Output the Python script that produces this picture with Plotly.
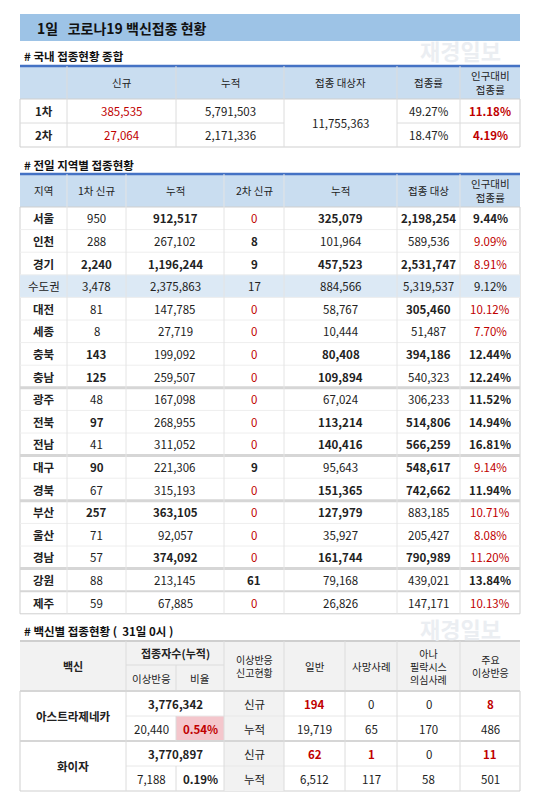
import plotly.graph_objects as go

# ---- data ----
dose_labels = ["1차", "2차"]
dose_new = [385535, 27064]
dose_cum = [5791503, 2171336]
dose_target = 11755363
dose_rate = ["49.27%", "18.47%"]
dose_pop_rate = ["11.18%", "4.19%"]

regions = ["서울", "인천", "경기", "수도권", "대전", "세종", "충북", "충남", "광주",
           "전북", "전남", "대구", "경북", "부산", "울산", "경남", "강원", "제주"]
first_new = [950, 288, 2240, 3478, 81, 8, 143, 125, 48, 97, 41, 90, 67, 257, 71, 57, 88, 59]
first_cum = [912517, 267102, 1196244, 2375863, 147785, 27719, 199092, 259507, 167098,
             268955, 311052, 221306, 315193, 363105, 92057, 374092, 213145, 67885]
second_new = [0, 8, 9, 17, 0, 0, 0, 0, 0, 0, 0, 9, 0, 0, 0, 0, 61, 0]
second_cum = [325079, 101964, 457523, 884566, 58767, 10444, 80408, 109894, 67024,
              113214, 140416, 95643, 151365, 127979, 35927, 161744, 79168, 26826]
target = [2198254, 589536, 2531747, 5319537, 305460, 51487, 394186, 540323, 306233,
          514806, 566259, 548617, 742662, 883185, 205427, 790989, 439021, 147171]
pop_rate = ["9.44%", "9.09%", "8.91%", "9.12%", "10.12%", "7.70%", "12.44%", "12.24%", "11.52%",
            "14.94%", "16.81%", "9.14%", "11.94%", "10.71%", "8.08%", "11.20%", "13.84%", "10.13%"]
# emphasis flags (1 = bold, 2 = red)
emph = [
    [0, 1, 2, 1, 1, 1], [0, 0, 1, 0, 0, 2], [1, 1, 1, 1, 1, 2], [0, 0, 0, 0, 0, 0],
    [0, 0, 2, 0, 1, 2], [0, 0, 2, 0, 0, 2], [1, 0, 2, 1, 1, 1], [1, 0, 2, 1, 0, 1],
    [0, 0, 2, 0, 0, 1], [1, 0, 2, 1, 1, 1], [0, 0, 2, 1, 1, 1], [1, 0, 1, 0, 1, 2],
    [0, 0, 2, 1, 1, 1], [1, 1, 2, 1, 0, 2], [0, 0, 2, 0, 0, 2], [0, 1, 2, 1, 1, 2],
    [0, 0, 1, 0, 0, 1], [0, 0, 2, 0, 0, 2],
]
group_breaks = ["광주", "대구", "부산", "강원"]

vaccines = ["아스트라제네카", "화이자"]
vac_total = [3776342, 3770897]
vac_adverse = [20440, 7188]
vac_ratio = ["0.54%", "0.19%"]
vac_new = [[194, 0, 0, 8], [62, 1, 0, 11]]
vac_cum = [[19719, 65, 170, 486], [6512, 117, 58, 501]]

RED = "#c00000"
LINE = "#dcdcdc"
FONT = "Noto Sans CJK KR"

fig = go.Figure()
shapes, notes = [], []


def rect(x0, x1, y0, y1, fill, line=None, w=0):
    shapes.append(dict(type="rect", x0=x0, x1=x1, y0=y0, y1=y1, fillcolor=fill,
                       line=dict(color=line or fill, width=w), layer="below"))


def seg(x0, y0, x1, y1, color=LINE, w=1):
    shapes.append(dict(type="line", x0=x0, x1=x1, y0=y0, y1=y1, line=dict(color=color, width=w)))


def txt(x, y, s, bold=False, color="#222", size=11.5, anchor="center"):
    if bold:
        s = "<b>" + s + "</b>"
    notes.append(dict(x=x, y=y, text=s, showarrow=False, xanchor=anchor, yanchor="middle",
                      font=dict(family=FONT, size=size, color=color)))


def num(v):
    return f"{v:,}"


def mid(a, b):
    return (a + b) / 2


L, R = 12, 512

# watermarks
txt(452, 42, "재경일보", True, "#ebeef2", 22)
txt(452, 620, "재경일보", True, "#ebeef2", 22)

# title bar
rect(L, R, 6, 33, "#9dc3e6")
txt(27, 19.5, "1일   코로나19 백신접종 현황", True, "#111", 14, "left")

# ---- table 1 ----
txt(14, 48, "# 국내 접종현황 종합", True, "#111", 11.5, "left")
c1 = [L, 59, 168, 276, 389, 452, R]
t1, h1, rh = 58, 91, 24
rect(L, R, t1, h1, "#c9ddf0")
rect(L, R, h1, h1 + 2 * rh, "white", "#cfcfcf", 1)
seg(L, t1, R, t1, "#4472c4", 2.5)
for x in c1[1:-1]:
    seg(x, t1, x, h1 + 2 * rh)
seg(L, h1 + rh, c1[3], h1 + rh)
seg(c1[4], h1 + rh, R, h1 + rh)
heads1 = ["", "신규", "누적", "접종 대상자", "접종률", "인구대비<br>접종률"]
for i, hd in enumerate(heads1):
    txt(mid(c1[i], c1[i + 1]), mid(t1, h1), hd, size=10.5)
for r in range(2):
    y = h1 + rh * (r + 0.5)
    txt(mid(c1[0], c1[1]), y, dose_labels[r], True)
    txt(mid(c1[1], c1[2]), y, num(dose_new[r]), False, RED)
    txt(mid(c1[2], c1[3]), y, num(dose_cum[r]))
    txt(mid(c1[4], c1[5]), y, dose_rate[r])
    txt(mid(c1[5], c1[6]), y, dose_pop_rate[r], True, RED)
txt(mid(c1[3], c1[4]), h1 + rh, num(dose_target))

# ---- table 2 ----
txt(14, 157, "# 전일 지역별 접종현황", True, "#111", 11.5, "left")
c2 = [L, 59, 118, 216, 276, 389, 452, R]
t2, h2, rh2 = 166, 199, 22.6
bottom2 = h2 + rh2 * len(regions)
rect(L, R, t2, h2, "#c9ddf0")
rect(L, R, h2, bottom2, "white", "#cfcfcf", 1)
seg(L, t2, R, t2, "#4472c4", 2.5)
heads2 = ["지역", "1차 신규", "누적", "2차 신규", "누적", "접종 대상", "인구대비<br>접종률"]
for i, hd in enumerate(heads2):
    txt(mid(c2[i], c2[i + 1]), mid(t2, h2), hd, size=10.5)
for i, reg in enumerate(regions):
    y0 = h2 + rh2 * i
    if reg == "수도권":
        rect(L, R, y0, y0 + rh2, "#dce9f5")
    if i > 0:
        if reg in group_breaks or reg == "제주":
            seg(L, y0, R, y0, "#d6d6d6", 3 if reg != "제주" else 2)
        else:
            seg(L, y0, R, y0, "#eeeeee")
for x in c2[1:-1]:
    seg(x, t2, x, bottom2, "#e4e4e4")
for i, reg in enumerate(regions):
    y = h2 + rh2 * (i + 0.5)
    txt(mid(c2[0], c2[1]), y, reg, reg != "수도권")
    vals = [num(first_new[i]), num(first_cum[i]), num(second_new[i]),
            num(second_cum[i]), num(target[i]), pop_rate[i]]
    for j, v in enumerate(vals):
        f = emph[i][j]
        txt(mid(c2[j + 1], c2[j + 2]), y, v, f == 1, RED if f == 2 else "#222")

# ---- table 3 ----
txt(14, 623, "# 백신별 접종현황 (  31일 0시 )", True, "#111", 11.5, "left")
c3 = [L, 118, 168, 216, 276, 337, 389, 452, R]
t3, hm, h3, rh3 = 633, 657, 683, 25
bottom3 = h3 + 4 * rh3
rect(L, R, t3, h3, "#f2f2f2")
rect(L, R, h3, bottom3, "white", "#cfcfcf", 1)
rect(c3[3], c3[4], h3, bottom3, "#f2f2f2")
rect(c3[2], c3[3], h3 + rh3, h3 + 2 * rh3, "#f4c6cc")
seg(L, t3, R, t3, "#cfcfcf", 2)
seg(c3[1], hm, c3[3], hm)
for x in c3[1:-1]:
    y_top = hm if x == c3[2] else t3
    seg(x, y_top, x, h3)
for k in range(1, 4):
    yk = h3 + rh3 * k
    x_start = L if k == 2 else c3[1]
    seg(x_start, yk, R, yk, "#d6d6d6" if k == 2 else "#e8e8e8", 2 if k == 2 else 1)
for x in c3[1:-1]:
    for k in range(4):
        if x == c3[2] and k % 2 == 0:
            continue
        seg(x, h3 + rh3 * k, x, h3 + rh3 * (k + 1))
seg(L, h3, R, h3, "#d6d6d6", 2)
txt(mid(c3[0], c3[1]), mid(t3, h3), "백신", True, size=11)
txt(mid(c3[1], c3[3]), mid(t3, hm), "접종자수(누적)", True, size=11)
txt(mid(c3[1], c3[2]), mid(hm, h3), "이상반응", size=10.5)
txt(mid(c3[2], c3[3]), mid(hm, h3), "비율", size=10.5)
heads3 = ["이상반응<br>신고현황", "일반", "사망사례", "아나<br>필락시스<br>의심사례", "주요<br>이상반응"]
for i, hd in enumerate(heads3):
    txt(mid(c3[i + 3], c3[i + 4]), mid(t3, h3), hd, size=10 if "<br>" in hd else 10.5)
for v in range(2):
    ya = h3 + rh3 * (2 * v + 0.5)
    yb = h3 + rh3 * (2 * v + 1.5)
    txt(mid(c3[0], c3[1]), h3 + rh3 * (2 * v + 1), vaccines[v], True)
    txt(mid(c3[1], c3[3]), ya, num(vac_total[v]), True)
    txt(mid(c3[1], c3[2]), yb, num(vac_adverse[v]))
    txt(mid(c3[2], c3[3]), yb, vac_ratio[v], True, RED if v == 0 else "#222")
    txt(mid(c3[3], c3[4]), ya, "신규")
    txt(mid(c3[3], c3[4]), yb, "누적")
    for j in range(4):
        nv = vac_new[v][j]
        txt(mid(c3[j + 4], c3[j + 5]), ya, num(nv), nv > 0, RED if nv > 0 else "#222")
        txt(mid(c3[j + 4], c3[j + 5]), yb, num(vac_cum[v][j]))

fig.update_layout(
    width=550, height=795, margin=dict(l=0, r=0, t=0, b=0),
    plot_bgcolor="white", paper_bgcolor="white",
    xaxis=dict(range=[0, 550], visible=False, fixedrange=True),
    yaxis=dict(range=[795, 0], visible=False, fixedrange=True),
    shapes=shapes, annotations=notes, showlegend=False,
)
fig.write_html("out.html")
